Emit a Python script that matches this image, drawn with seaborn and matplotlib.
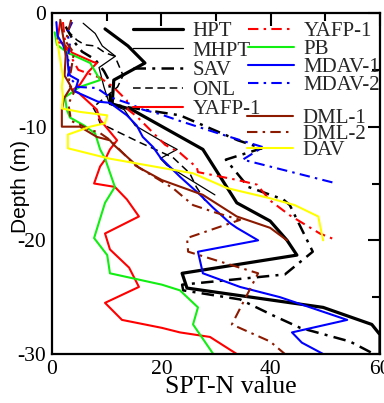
import matplotlib
matplotlib.use("Agg")
import matplotlib.pyplot as plt
import seaborn as sns

# ---------------- data (SPT-N value, depth in m) ----------------
hpt_n = [9.7, 13.9, 17.0, 11.3, 11.0, 14.6, 27.6, 33.8, 39.9, 43.0, 44.8, 23.8, 24.7, 49.6, 58.5, 60.0, 60.0]
hpt_d = [-1.4, -2.9, -4.4, -5.9, -8.0, -8.5, -12.0, -16.7, -18.3, -20.0, -21.3, -22.9, -24.2, -25.9, -27.4, -28.3, -30.0]

mhpt_n = [5.7, 7.9, 9.2, 11.6, 8.6, 9.5, 10.5, 13.2, 15.2, 19.8, 22.9, 19.8, 21.0, 29.8]
mhpt_d = [-0.9, -1.8, -2.9, -3.8, -4.8, -6.5, -8.0, -8.5, -9.9, -11.2, -12.0, -12.8, -13.4, -16.0]

sav_n = [2.5, 4.0, 5.5, 7.9, 9.5, 10.5, 10.6, 10.6, 14.0, 18.0, 23.4, 34.0, 38.4, 31.8, 35.9, 42.3, 43.5,
         47.7, 42.6, 23.8, 24.0, 34.4, 40.4, 45.4, 54.5, 58.5]
sav_d = [-1.2, -2.5, -3.4, -4.1, -5.1, -6.0, -7.0, -8.0, -8.3, -8.6, -9.0, -11.2, -11.9, -12.9, -15.3, -16.4, -16.9,
         -21.0, -23.0, -23.9, -24.4, -25.2, -26.6, -27.7, -28.9, -29.9]

onl_n = [2.7, 4.6, 6.0, 7.9, 9.7, 11.5, 13.0, 12.0, 10.8, 7.5, 8.2, 8.8, 16.1, 22.1, 25.2, 26.4, 28.0]
onl_d = [-1.5, -2.4, -2.8, -2.9, -3.5, -3.8, -5.5, -6.5, -7.0, -8.3, -8.9, -9.7, -11.4, -12.7, -14.1, -15.3, -16.5]

yafp1_n = [1.5, 0.9, 1.8, 3.7, 7.5, 8.2, 6.6, 5.1, 3.7, 4.8, 8.2, 8.8, 11.9, 10.6, 9.7, 8.8, 7.7, 11.5, 13.7,
           15.9, 9.7, 10.6, 14.1, 15.9, 9.7, 12.8, 20.1, 23.4, 28.9, 33.8]
yafp1_d = [-0.8, -2.6, -2.6, -3.5, -4.3, -4.4, -5.2, -6.3, -6.8, -7.0, -8.5, -9.4, -11.2, -12.0, -12.9, -13.5, -15.0,
           -15.3, -16.4, -17.9, -19.4, -20.8, -22.4, -24.1, -25.5, -27.0, -27.7, -28.1, -28.5, -30.0]

yafp1b_n = [2.0, 2.5, 4.8, 8.8, 11.2, 13.7, 13.9, 15.5, 20.7, 23.4, 26.5, 26.7, 34.0, 37.5, 39.9, 43.5, 49.0, 52.1]
yafp1b_d = [-0.8, -3.0, -5.0, -5.7, -6.5, -7.7, -8.5, -9.1, -11.6, -12.3, -13.6, -14.0, -14.7, -15.1, -16.5,
            -17.8, -19.4, -20.0]

pb_n = [0.5, 0.9, 2.9, 7.0, 8.8, 5.1, 2.4, 2.7, 3.3, 5.9, 7.9, 8.8, 9.7, 11.5, 9.7, 7.7, 10.1, 10.6, 20.1,
        23.4, 26.7, 25.8, 29.5]
pb_d = [-1.7, -2.8, -3.5, -4.4, -5.9, -6.5, -7.4, -8.5, -9.2, -9.9, -10.6, -12.0, -12.8, -15.3, -16.7, -19.8,
        -21.3, -22.9, -23.9, -24.4, -25.9, -27.4, -30.0]

mdav1_n = [0.8, 1.0, 2.0, 2.8, 3.0, 3.3, 4.8, 4.2, 8.4, 10.6, 13.7, 15.5, 16.6, 18.5, 19.8, 23.4, 27.1, 29.4,
           32.6, 33.8, 37.7, 26.7, 27.6, 34.4, 41.7, 54.0, 43.9, 45.7, 49.6]
mdav1_d = [-0.8, -2.0, -2.8, -3.8, -5.0, -5.5, -5.9, -6.9, -7.8, -7.9, -9.0, -9.9, -10.9, -11.8, -12.7, -14.4,
           -16.0, -17.1, -18.5, -18.9, -20.0, -21.0, -22.9, -24.1, -25.0, -27.0, -28.1, -29.0, -30.0]

mdav2_n = [3.7, 2.7, 3.3, 2.9, 3.3, 2.9, 4.2, 4.6, 8.2, 10.6, 14.3, 16.6, 19.8, 23.4, 30.5, 38.6, 34.9, 52.1]
mdav2_d = [-0.8, -1.8, -2.6, -4.0, -4.7, -5.5, -6.2, -6.5, -6.6, -7.4, -8.0, -8.5, -8.9, -9.5, -10.6, -11.8,
           -12.9, -15.0]

dml1_n = [1.5, 2.3, 2.5, 2.3, 3.5, 2.2, 1.8, 1.8, 5.1, 8.2, 10.6, 11.3, 15.9, 20.1, 27.6, 33.8, 39.9, 43.0]
dml1_d = [-0.6, -2.8, -3.8, -5.5, -6.5, -7.5, -8.5, -10.0, -10.0, -10.9, -11.2, -11.6, -13.6, -14.7, -16.0,
          -17.9, -18.9, -20.0]

dml2_n = [3.5, 2.5, 4.0, 3.5, 3.0, 4.0, 3.0, 3.5, 5.0, 7.0, 8.6, 11.0, 11.9, 15.2, 22.1, 25.8, 30.2, 34.4,
          24.7, 24.9, 37.7, 32.9, 39.9, 42.6]
dml2_d = [-0.6, -2.5, -3.5, -5.0, -6.2, -7.0, -8.0, -9.5, -9.8, -10.3, -10.5, -11.3, -11.8, -13.4, -15.4,
          -16.9, -17.6, -18.2, -19.8, -21.0, -22.9, -27.4, -28.9, -30.0]

dav_n = [0.9, 1.5, 2.0, 1.8, 2.0, 1.8, 5.1, 10.1, 9.7, 7.0, 2.9, 2.9, 10.4, 19.8, 25.8, 32.0, 39.9, 44.4,
         48.7, 49.6]
dav_d = [-2.4, -4.1, -5.6, -6.5, -7.4, -8.4, -8.7, -9.0, -9.7, -10.0, -10.7, -11.9, -12.8, -13.6, -14.1,
         -15.4, -16.3, -16.9, -17.9, -20.0]

x_ticks = [0, 20, 40, 60]
y_ticks = [-30, -20, -10, 0]
x_label = "SPT-N value"
y_label = "Depth (m)"

# ---------------- styling ----------------
sns.set_theme(style="white")
plt.rcParams['font.family'] = ['Liberation Serif', 'DejaVu Serif']
plt.rcParams['axes.unicode_minus'] = False

RED = "#ff0000"
GREEN = "#11ee11"
BLUE = "#0000ff"
BROWN = "#8b1a00"
YELLOW = "#ffff00"
DD = (0, (5, 2.5, 1.2, 2.5))

series = [
    ("HPT", hpt_n, hpt_d, "black", 2.3, "-"),
    ("MHPT", mhpt_n, mhpt_d, "black", 0.9, "-"),
    ("SAV", sav_n, sav_d, "black", 1.8, (0, (5, 2.5, 1.2, 2.5))),
    ("ONL", onl_n, onl_d, "black", 1.1, (0, (5, 3))),
    ("YAFP-1", yafp1_n, yafp1_d, RED, 1.5, "-"),
    ("YAFP-1 ", yafp1b_n, yafp1b_d, RED, 1.5, DD),
    ("PB", pb_n, pb_d, GREEN, 1.5, "-"),
    ("MDAV-1", mdav1_n, mdav1_d, BLUE, 1.5, "-"),
    ("MDAV-2", mdav2_n, mdav2_d, BLUE, 1.5, DD),
    ("DML-1", dml1_n, dml1_d, BROWN, 1.5, "-"),
    ("DML-2", dml2_n, dml2_d, BROWN, 1.5, DD),
    ("DAV", dav_n, dav_d, YELLOW, 1.5, "-"),
]

fig = plt.figure(figsize=(3.84, 4.03), dpi=100)
ax = fig.add_axes([52 / 384, 1 - 354 / 403, 328 / 384, 341 / 403])

handles = {}
for name, n, d, col, lw, ls in series:
    sns.lineplot(x=n, y=d, sort=False, estimator=None, color=col, lw=lw,
                 linestyle=ls, ax=ax, legend=False)
    handles[name] = ax.lines[-1]

ax.set_xlim(0, 60)
ax.set_ylim(-30, 0)
ax.set_xticks(x_ticks)
ax.set_xticks([10, 30, 50], minor=True)
ax.set_yticks(y_ticks)
ax.set_yticks([-25, -15, -5], minor=True)
ax.set_xticklabels([str(v) for v in x_ticks])
ax.set_yticklabels([str(v) for v in y_ticks])
ax.tick_params(which='both', direction='in', top=True, right=True, colors='black',
               labelsize=15.5, width=1.5)
ax.tick_params(which='major', length=9, pad=4)
ax.tick_params(which='minor', length=6)
for sp in ax.spines.values():
    sp.set_linewidth(1.6)
    sp.set_color('black')

ax.set_xlabel(x_label, fontsize=18.5, color='black')
ax.xaxis.set_label_coords(0.546, -0.064)
ax.set_ylabel(y_label, fontsize=15, family=['Liberation Sans', 'DejaVu Sans'], color='black')
ax.yaxis.set_label_coords(-0.066, 0.49)

common = dict(frameon=False, fontsize=15, borderpad=0, borderaxespad=0,
              loc='upper left', handletextpad=0.45)

g1 = ["HPT", "MHPT", "SAV", "ONL", "YAFP-1"]
leg1 = ax.legend([handles[k] for k in g1], g1, bbox_to_anchor=(0.247, 0.975),
                 handlelength=2.4, labelspacing=0.0, **common)
ax.add_artist(leg1)

g2 = ["YAFP-1 ", "PB", "MDAV-1", "MDAV-2"]
leg2 = ax.legend([handles[k] for k in g2], [k.strip() for k in g2], bbox_to_anchor=(0.598, 0.975),
                 handlelength=2.2, labelspacing=-0.07, **common)
ax.add_artist(leg2)

g3 = ["DML-1", "DML-2", "DAV"]
leg3 = ax.legend([handles[k] for k in g3], g3, bbox_to_anchor=(0.595, 0.72),
                 handlelength=2.2, labelspacing=-0.17, **common)

fig.savefig("out.png", dpi=100)
